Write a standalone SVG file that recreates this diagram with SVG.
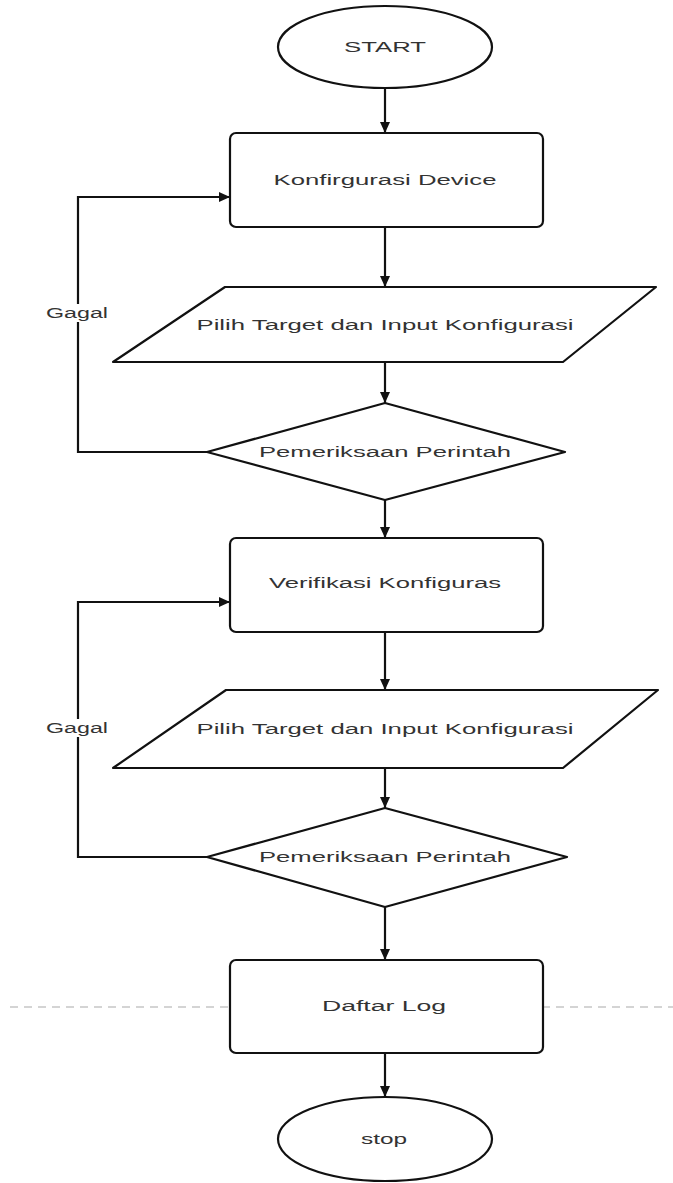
<svg xmlns="http://www.w3.org/2000/svg" width="673" height="1183" viewBox="0 0 673 1183">
<defs>
<style>
.shape{fill:#fff;stroke:#111;stroke-width:2.2;stroke-linejoin:round}
.conn{fill:none;stroke:#111;stroke-width:2.2}
.lbl{font-family:"Liberation Sans",Arial,sans-serif;font-size:14px;fill:#333;text-anchor:middle;dominant-baseline:central}
.dash{stroke:#aaa;stroke-width:1.2;stroke-dasharray:8 6}
</style>
<marker id="arr" markerUnits="userSpaceOnUse" markerWidth="12" markerHeight="12" refX="11" refY="6" orient="auto">
<path d="M0,1 L11,6 L0,11 z" fill="#111"/>
</marker>
</defs>
<rect width="673" height="1183" fill="#fff"/>
<line class="dash" x1="10" y1="1007" x2="673" y2="1007"/>
<g id="connectors">
<line class="conn" x1="385" y1="88" x2="385" y2="133" marker-end="url(#arr)"/>
<line class="conn" x1="385" y1="227" x2="385" y2="287" marker-end="url(#arr)"/>
<line class="conn" x1="385" y1="362" x2="385" y2="403" marker-end="url(#arr)"/>
<line class="conn" x1="385" y1="500" x2="385" y2="538" marker-end="url(#arr)"/>
<line class="conn" x1="385" y1="632" x2="385" y2="690" marker-end="url(#arr)"/>
<line class="conn" x1="385" y1="768" x2="385" y2="808" marker-end="url(#arr)"/>
<line class="conn" x1="385" y1="907" x2="385" y2="960" marker-end="url(#arr)"/>
<line class="conn" x1="385" y1="1053" x2="385" y2="1097" marker-end="url(#arr)"/>
<polyline class="conn" points="207,452 78,452 78,197 230,197" marker-end="url(#arr)"/>
<polyline class="conn" points="207,857 78,857 78,602 230,602" marker-end="url(#arr)"/>
<g id="label-gagal-1">
<rect x="44" y="304" width="66" height="18" fill="#fff"/>
<text class="lbl" x="77" y="313" textLength="62" lengthAdjust="spacingAndGlyphs">Gagal</text>
</g>
<g id="label-gagal-2">
<rect x="44" y="719" width="66" height="18" fill="#fff"/>
<text class="lbl" x="77" y="728" textLength="62" lengthAdjust="spacingAndGlyphs">Gagal</text>
</g>
</g>
<g id="start">
<ellipse class="shape" cx="385" cy="47" rx="107" ry="41"/>
<text class="lbl" x="385" y="47" textLength="82" lengthAdjust="spacingAndGlyphs">START</text>
</g>
<g id="konfigurasi-device">
<rect class="shape" x="230" y="133" width="313" height="94" rx="6"/>
<text class="lbl" x="385" y="180" textLength="223" lengthAdjust="spacingAndGlyphs">Konfirgurasi Device</text>
</g>
<g id="input-1">
<path class="shape" d="M225,287 L656,287 L563,362 L113,362 Z"/>
<text class="lbl" x="385" y="325" textLength="377" lengthAdjust="spacingAndGlyphs">Pilih Target dan Input Konfigurasi</text>
</g>
<g id="cek-1">
<path class="shape" d="M385,403 L565,452 L385,500 L207,452 Z"/>
<text class="lbl" x="385" y="452" textLength="252" lengthAdjust="spacingAndGlyphs">Pemeriksaan Perintah</text>
</g>
<g id="verifikasi">
<rect class="shape" x="230" y="538" width="313" height="94" rx="6"/>
<text class="lbl" x="385" y="583" textLength="232" lengthAdjust="spacingAndGlyphs">Verifikasi Konfiguras</text>
</g>
<g id="input-2">
<path class="shape" d="M226,690 L658,690 L563,768 L113,768 Z"/>
<text class="lbl" x="385" y="729" textLength="377" lengthAdjust="spacingAndGlyphs">Pilih Target dan Input Konfigurasi</text>
</g>
<g id="cek-2">
<path class="shape" d="M385,808 L567,857 L385,907 L207,857 Z"/>
<text class="lbl" x="385" y="857" textLength="252" lengthAdjust="spacingAndGlyphs">Pemeriksaan Perintah</text>
</g>
<g id="daftar-log">
<rect class="shape" x="230" y="960" width="313" height="93" rx="6"/>
<text class="lbl" x="384" y="1006" textLength="124" lengthAdjust="spacingAndGlyphs">Daftar Log</text>
</g>
<g id="stop">
<ellipse class="shape" cx="385" cy="1139" rx="107" ry="42"/>
<text class="lbl" x="384" y="1139" textLength="46" lengthAdjust="spacingAndGlyphs">stop</text>
</g>
</svg>
